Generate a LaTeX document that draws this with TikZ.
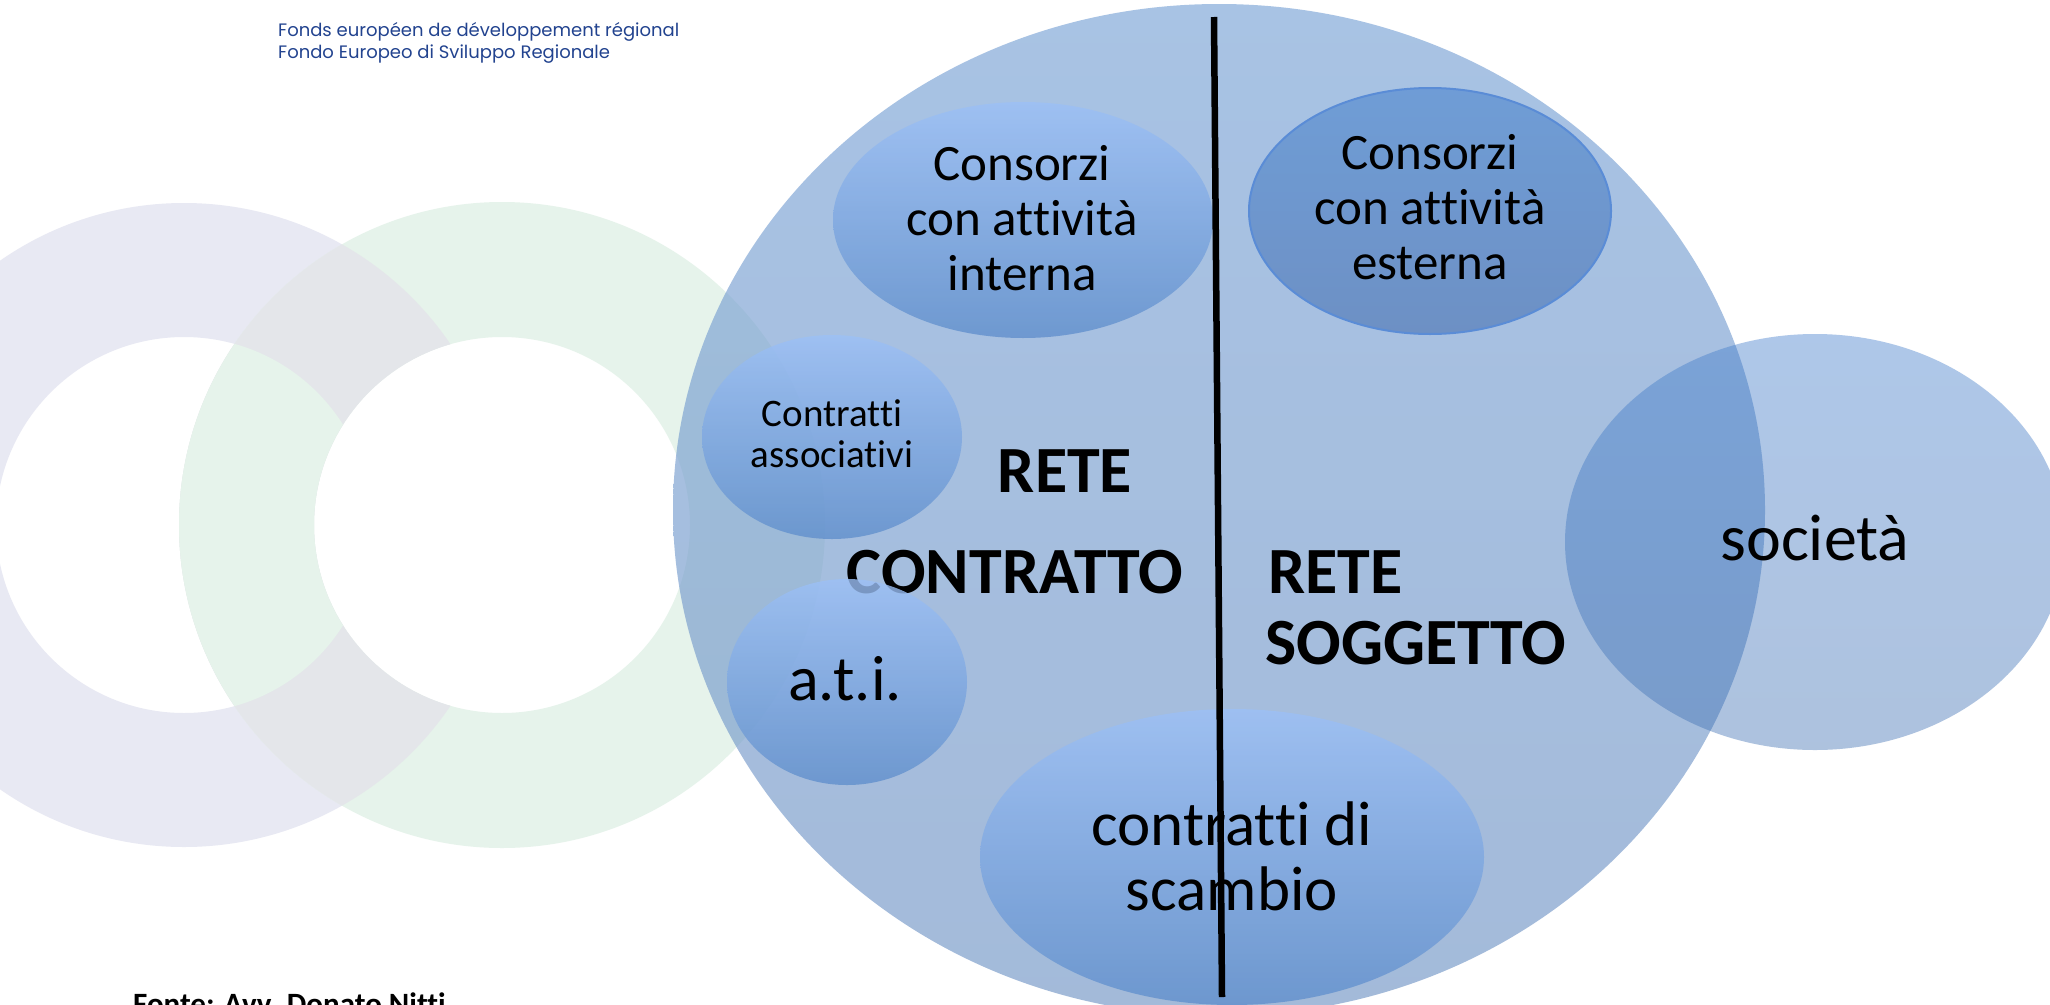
\documentclass[tikz,border=0pt]{standalone}
\usepackage{fontspec}
\setmainfont{Carlito}[Ligatures=CommonOff]
\newfontfamily\hdrfont{Poppins}
\usetikzlibrary{shapes.geometric}
\definecolor{lav}{HTML}{E8E9F3}
\definecolor{grn}{HTML}{E6F3EB}
\definecolor{ovl}{HTML}{E4E6EA}
\definecolor{bigtop}{HTML}{7AA3D6}
\definecolor{bigbot}{HTML}{7396C6}
\definecolor{smtop}{HTML}{9CC0F6}
\definecolor{smbot}{HTML}{608FCC}
\definecolor{esttop}{HTML}{6C9BD6}
\definecolor{estbot}{HTML}{6A8EC3}
\definecolor{estdraw}{HTML}{5A8CD6}
\definecolor{soctop}{HTML}{3F7BCB}
\definecolor{socbot}{HTML}{3D6FB2}
\definecolor{hdr}{HTML}{22438F}
\begin{document}
\begin{tikzpicture}[x=1pt,y=-1pt,
  blob/.style={ellipse, inner sep=0pt, draw=none},
  smallblob/.style={blob, top color=smtop, bottom color=smbot, fill opacity=0.8},
  txt/.style={anchor=base, inner sep=0pt, text=black},
  t51/.style={txt, font=\fontsize{51}{55}\selectfont},
  t39/.style={txt, font=\fontsize{39}{42}\selectfont},
  t63/.style={txt, font=\fontsize{63}{66}\selectfont},
  tbold/.style={txt, font=\fontsize{66}{70}\selectfont\bfseries},
  hdrtxt/.style={anchor=base west, inner sep=0pt, text=hdr, font=\hdrfont\fontsize{18}{21}\selectfont}
]
\useasboundingbox (0,0) rectangle (2050,1004);
\clip (0,0) rectangle (2050,1004);
\fill[white] (0,0) rectangle (2050,1004);

% background rings
\fill[lav, even odd rule] (184,525) circle[radius=322] (184,525) circle[radius=188];
\fill[white] (502,525) circle[radius=188];
\fill[grn, even odd rule] (502,525) circle[radius=323] (502,525) circle[radius=188];
\begin{scope}
  \clip (184,525) circle[radius=322];
  \fill[ovl, even odd rule] (502,525) circle[radius=323] (502,525) circle[radius=188];
  \clip (184,525) circle[radius=188];
  \fill[grn, even odd rule] (502,525) circle[radius=323] (502,525) circle[radius=188];
\end{scope}

% big ellipse
\node[blob, minimum width=1092pt, minimum height=1012pt, top color=bigtop, bottom color=bigbot, fill opacity=0.65] (big) at (1219,510) {};

% small ellipses (first group)
\node[smallblob, minimum width=380pt, minimum height=236pt] (interna) at (1023,220) {};
\node[blob, minimum width=362pt, minimum height=246pt, top color=esttop, bottom color=estbot, fill opacity=0.95, draw=estdraw, line width=2pt] (esterna) at (1430,211) {};
\node[smallblob, minimum width=260pt, minimum height=204pt] (assoc) at (832,437) {};

% central labels
\node[tbold] (rete1) at (1065,492) {RETE};
\node[tbold] (contratto) at (1015,593) {CONTRATTO};
\node[tbold, anchor=base west] (rete2) at (1268,593) {RETE};
\node[tbold, anchor=base west] (soggetto) at (1265,664) {SOGGETTO};

% ellipses drawn over the labels
\node[smallblob, minimum width=240pt, minimum height=206pt] (ati) at (847,682) {};
\node[smallblob, minimum width=504pt, minimum height=296pt] (scambio) at (1232,857) {};
\node[blob, minimum width=500pt, minimum height=416pt, top color=soctop, bottom color=socbot, fill opacity=0.42] (societa) at (1815,542) {};

% texts in ellipses
\node[t51] (i1) at (1022,180) {Consorzi};
\node[t51] (i2) at (1022,235) {con attività};
\node[t51] (i3) at (1022,290) {interna};
\node[t51] (e1) at (1430,169) {Consorzi};
\node[t51] (e2) at (1430,224) {con attività};
\node[t51] (e3) at (1430,279) {esterna};
\node[t39] (a1) at (832,426) {Contratti};
\node[t39] (a2) at (832,467) {associativi};
\node[txt, font=\fontsize{64}{68}\selectfont] (ati1) at (845,700) {a.t.i.};
\node[t63] (s1) at (1232,845) {contratti di};
\node[t63] (s2) at (1232,910) {scambio};
\node[txt, font=\fontsize{66}{70}\selectfont] (soc1) at (1815,560) {società};

% dividing line
\coordinate (ltop) at (1214,17);
\coordinate (lbot) at (1222,997);
\draw[line width=6.5pt, black] (ltop) -- (lbot);

% header and footer
\node[hdrtxt] (h1) at (278,36) {Fonds européen de développement régional};
\node[hdrtxt] (h2) at (278,58) {Fondo Europeo di Sviluppo Regionale};
\node[anchor=base west, inner sep=0pt, font=\fontsize{31}{34}\selectfont\bfseries] (fonte) at (133,1014) {Fonte: Avv. Donato Nitti};
\end{tikzpicture}
\end{document}
